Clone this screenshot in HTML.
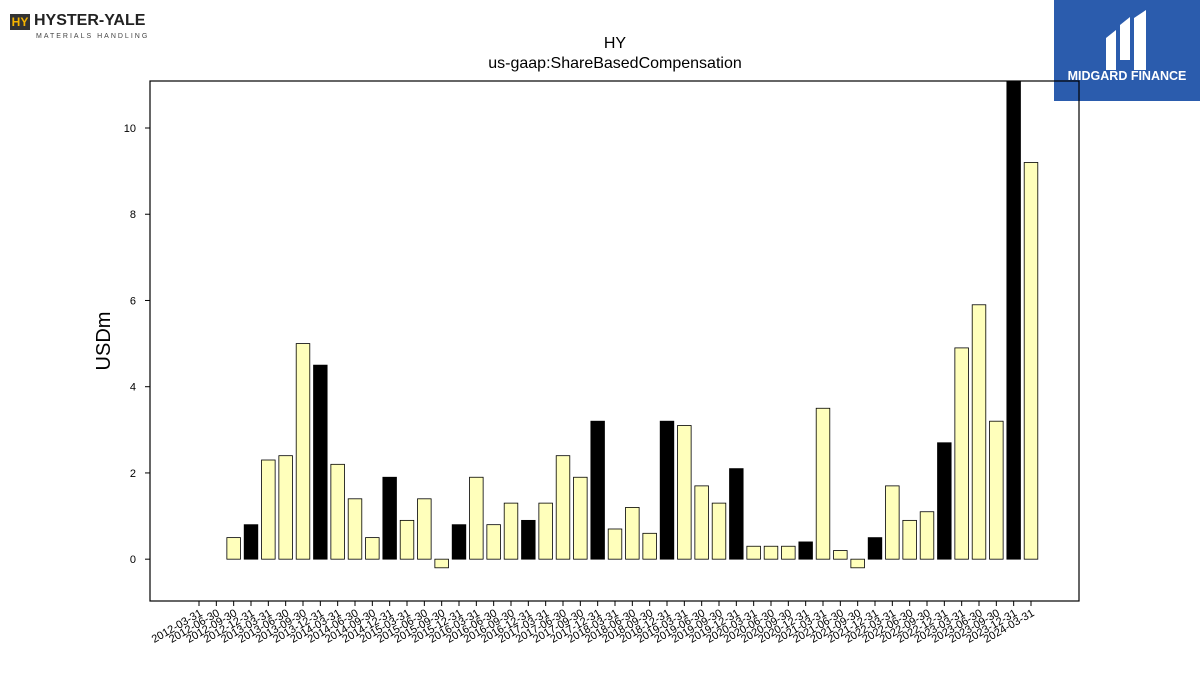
<!DOCTYPE html>
<html><head><meta charset="utf-8"><style>
body{margin:0;background:#fff;font-family:"Liberation Sans","DejaVu Sans",sans-serif}
#wrap{position:relative;width:1200px;height:675px;overflow:hidden}
</style></head><body>
<div id="wrap">
<div style="position:absolute;left:10px;top:12px;width:140px;height:32px">
 <div style="position:absolute;left:0;top:2px;width:20px;height:16px;background:#333;color:#f5b400;font-size:12px;font-weight:bold;text-align:center;line-height:16px">HY</div>
 <div style="position:absolute;left:24px;top:0;font-size:16px;font-weight:bold;color:#222">HYSTER-YALE</div>
 <div style="position:absolute;left:26px;top:21px;font-size:7px;letter-spacing:2px;color:#444">MATERIALS HANDLING</div>
</div>
<div style="position:absolute;left:1054px;top:0;width:146px;height:101px;background:#2b5cad;color:#fff">
 <svg width="146" height="70" style="position:absolute;left:0;top:0"><path d="M52 70 V38 L62 30 V70 Z M66 60 V25 L76 17 V60 Z M80 70 V18 L92 10 V70 Z" fill="#fff"/></svg>
 <div style="position:absolute;left:0;width:146px;top:69px;text-align:center;font-size:12.5px;font-weight:bold">MIDGARD FINANCE</div>
</div>
<svg id="chart" width="1200" height="675" style="position:absolute;left:0;top:0"></svg>
</div>
<script>
const categories=[];
for(let y=2012;y<=2024;y++){for(const q of ["03-31","06-30","09-30","12-31"]){if(y===2024&&q!=="03-31")break;categories.push(y+"-"+q);}}
const values=[0,0,0.5,0.8,2.3,2.4,5.0,4.5,2.2,1.4,0.5,1.9,0.9,1.4,-0.2,0.8,1.9,0.8,1.3,0.9,1.3,2.4,1.9,3.2,0.7,1.2,0.6,3.2,3.1,1.7,1.3,2.1,0.3,0.3,0.3,0.4,3.5,0.2,-0.2,0.5,1.7,0.9,1.1,2.7,4.9,5.9,3.2,12.0,9.2];
const yTicks=[0,2,4,6,8,10];
const NS="http://www.w3.org/2000/svg";
const svg=document.getElementById("chart");
const L=150,R=1079,T=81,B=601,yMin=-0.97,yMax=11.09;
const x=i=>199+(1031-199)*i/(categories.length-1);
const y=v=>B-(v-yMin)/(yMax-yMin)*(B-T);
function mk(t,a,p){const e=document.createElementNS(NS,t);for(const k in a)e.setAttribute(k,a[k]);(p||svg).appendChild(e);return e;}
const clip=mk("clipPath",{id:"pc"});mk("rect",{x:L,y:T,width:R-L,height:B-T},clip);
const g=mk("g",{"clip-path":"url(#pc)"});
values.forEach((v,i)=>{
 const r=mk("rect",{x:x(i)-6.8,y:Math.min(y(v),y(0)),width:13.6,height:Math.abs(y(v)-y(0)),fill:categories[i].endsWith("12-31")?"#000":"#ffffbb",stroke:"#000","stroke-width":0.8},g);
 
 
});
const frame=mk("rect",{x:L,y:T,width:R-L,height:B-T,fill:"none",stroke:"#000","stroke-width":1.2});

yTicks.forEach(t=>{
 mk("line",{x1:L-5,x2:L,y1:y(t),y2:y(t),stroke:"#000"});
 const tx=mk("text",{x:L-14,y:y(t)+4,"text-anchor":"end","font-size":11});tx.textContent=t;
 
});
categories.forEach((c,i)=>{
 mk("line",{x1:x(i),x2:x(i),y1:B,y2:B+5,stroke:"#000"});
 const tx=mk("text",{x:x(i)+4,y:B+14,"text-anchor":"end","font-size":11,transform:`rotate(-30 ${x(i)+4} ${B+14})`});tx.textContent=c;
 
});
const yl=mk("text",{x:110,y:341,"text-anchor":"middle","font-size":20,transform:"rotate(-90 110 341)"});yl.textContent="USDm";

const t1=mk("text",{x:615,y:48,"text-anchor":"middle","font-size":16});t1.textContent="HY";

const t2=mk("text",{x:615,y:68,"text-anchor":"middle","font-size":16});t2.textContent="us-gaap:ShareBasedCompensation";

</script>
</body></html>
